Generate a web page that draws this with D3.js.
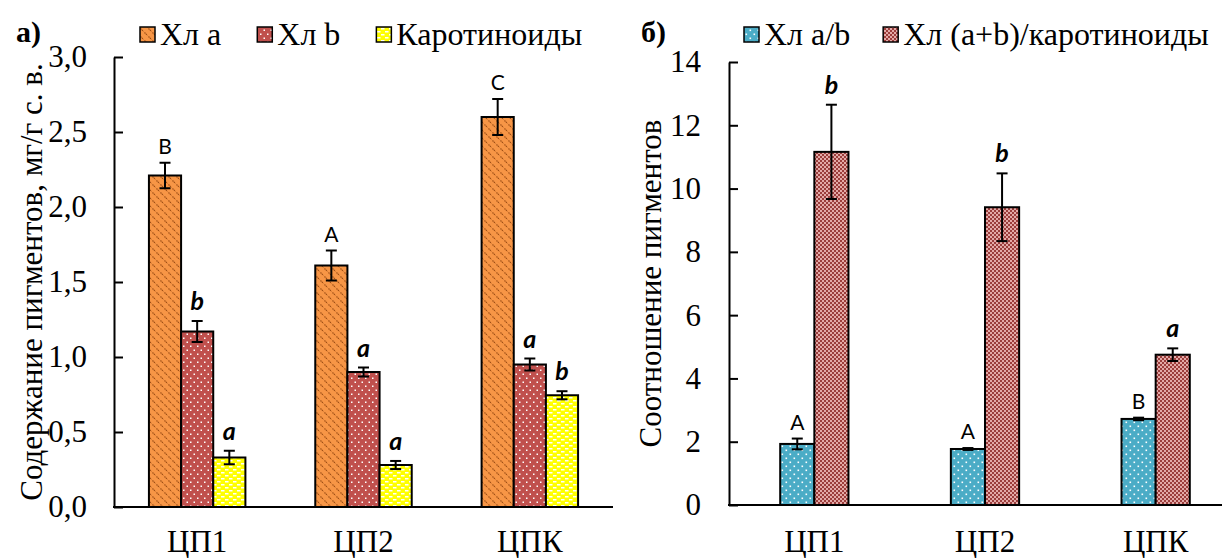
<!DOCTYPE html>
<html>
<head>
<meta charset="utf-8">
<script src="https://cdn.jsdelivr.net/npm/d3@7"></script>
<style>
  body { margin: 0; background: #fff; }
  svg { display: block; }
</style>
</head>
<body>
<script>
const categories = ["ЦП1", "ЦП2", "ЦПК"];

// panel а) — pigment content, mg/g dry weight
const chlA = [2.21, 1.61, 2.60];
const chlAErr = [0.085, 0.10, 0.12];
const chlB = [1.17, 0.90, 0.95];
const chlBErr = [0.07, 0.03, 0.04];
const carot = [0.33, 0.28, 0.745];
const carotErr = [0.045, 0.027, 0.027];
const chlALetters = ["B", "A", "C"];
const chlBLetters = ["b", "a", "a"];
const carotLetters = ["a", "a", "b"];
const ticksLeft = [0, 0.5, 1, 1.5, 2, 2.5, 3];

// panel б) — pigment ratios
const ratioAB = [1.93, 1.77, 2.72];
const ratioABErr = [0.17, 0.03, 0.04];
const ratioCar = [11.16, 9.41, 4.75];
const ratioCarErr = [1.49, 1.07, 0.2];
const ratioABLetters = ["A", "A", "B"];
const ratioCarLetters = ["b", "b", "a"];
const ticksRight = [0, 2, 4, 6, 8, 10, 12, 14];

const W = 1222, H = 558;
const serif = '"Liberation Serif", "Times New Roman", serif';
const sans = 'Lato, "Open Sans", "Liberation Sans", sans-serif';

const svg = d3.select("body").append("svg")
    .attr("width", W)
    .attr("height", H)
    .attr("viewBox", `0 0 ${W} ${H}`);

// fill patterns (Excel-like)
const defs = svg.append("defs");

const pOrange = defs.append("pattern").attr("id", "p-orange")
    .attr("patternUnits", "userSpaceOnUse").attr("width", 8).attr("height", 8);
pOrange.append("rect").attr("width", 8).attr("height", 8).attr("fill", "#F79646");
pOrange.append("path").attr("d", "M0.5,0.5L3.5,3.5M4.5,4.5L7.5,7.5")
    .attr("stroke", "#9A4B12").attr("stroke-width", 1.1).attr("stroke-dasharray", "1.4,0.6");

const pRed = defs.append("pattern").attr("id", "p-red")
    .attr("patternUnits", "userSpaceOnUse").attr("width", 7).attr("height", 8);
pRed.append("rect").attr("width", 7).attr("height", 8).attr("fill", "#C0504D");
pRed.append("rect").attr("x", 1).attr("y", 1.5).attr("width", 1.5).attr("height", 1.5).attr("fill", "#fff");
pRed.append("rect").attr("x", 4.5).attr("y", 5.5).attr("width", 1.5).attr("height", 1.5).attr("fill", "#fff");

const pYellow = defs.append("pattern").attr("id", "p-yellow")
    .attr("patternUnits", "userSpaceOnUse").attr("width", 8).attr("height", 6);
pYellow.append("rect").attr("width", 8).attr("height", 6).attr("fill", "#FFFF00");
pYellow.append("rect").attr("x", 1).attr("y", 1).attr("width", 3.5).attr("height", 1.5).attr("fill", "#fff");
pYellow.append("rect").attr("x", 5).attr("y", 4).attr("width", 3.5).attr("height", 1.5).attr("fill", "#fff");
pYellow.append("rect").attr("x", -3).attr("y", 4).attr("width", 3.5).attr("height", 1.5).attr("fill", "#fff");

const pBlue = defs.append("pattern").attr("id", "p-blue")
    .attr("patternUnits", "userSpaceOnUse").attr("width", 8).attr("height", 8);
pBlue.append("rect").attr("width", 8).attr("height", 8).attr("fill", "#4BACC6");
pBlue.append("rect").attr("x", 1.5).attr("y", 1.5).attr("width", 1.6).attr("height", 1.6).attr("fill", "#fff");
pBlue.append("rect").attr("x", 5.5).attr("y", 5.5).attr("width", 1.6).attr("height", 1.6).attr("fill", "#fff");

const pPink = defs.append("pattern").attr("id", "p-pink")
    .attr("patternUnits", "userSpaceOnUse").attr("width", 4).attr("height", 4);
pPink.append("rect").attr("width", 4).attr("height", 4).attr("fill", "#E3A9A7");
pPink.append("rect").attr("width", 2).attr("height", 2).attr("fill", "#9B3D3B");
pPink.append("rect").attr("x", 2).attr("y", 2).attr("width", 2).attr("height", 2).attr("fill", "#9B3D3B");

function panel(o) {
  const x0 = d3.scaleBand()
      .domain(categories)
      .range(o.xRange)
      .paddingInner(o.pad)
      .paddingOuter(o.pad / 2);
  const x1 = d3.scaleBand()
      .domain(o.series.map(s => s.name))
      .range([0, x0.bandwidth()]);
  const y = d3.scaleLinear().domain(o.yDomain).range(o.yRange);

  const g = svg.append("g");

  // bars
  o.series.forEach(s => {
    const sg = g.append("g");
    sg.selectAll("rect")
      .data(categories)
      .join("rect")
        .attr("x", (c) => x0(c) + x1(s.name))
        .attr("y", (c, i) => y(s.values[i]))
        .attr("width", x1.bandwidth())
        .attr("height", (c, i) => y(0) - y(s.values[i]))
        .attr("fill", `url(#${s.pattern})`)
        .attr("stroke", "#000")
        .attr("stroke-width", 2);

    // error bars
    const eb = sg.selectAll("g.err")
      .data(categories)
      .join("g")
        .attr("class", "err")
        .attr("transform", c => `translate(${x0(c) + x1(s.name) + x1.bandwidth() / 2},0)`)
        .attr("stroke", "#000")
        .attr("stroke-width", 2);
    eb.append("line")
        .attr("y1", (c, i) => y(s.values[i] - s.err[i]))
        .attr("y2", (c, i) => y(s.values[i] + s.err[i]));
    eb.append("line").attr("x1", -5.5).attr("x2", 5.5)
        .attr("y1", (c, i) => y(s.values[i] + s.err[i]))
        .attr("y2", (c, i) => y(s.values[i] + s.err[i]));
    eb.append("line").attr("x1", -5.5).attr("x2", 5.5)
        .attr("y1", (c, i) => y(s.values[i] - s.err[i]))
        .attr("y2", (c, i) => y(s.values[i] - s.err[i]));

    // significance letters
    sg.selectAll("text")
      .data(categories)
      .join("text")
        .attr("x", c => x0(c) + x1(s.name) + x1.bandwidth() / 2)
        .attr("y", (c, i) => y(s.values[i] + s.err[i]) - (s.upper ? 9 : 11))
        .attr("text-anchor", "middle")
        .style("font-family", sans)
        .style("font-size", (s.upper ? 21 : 25) + "px")
        .style("font-weight", s.upper ? 400 : 700)
        .style("font-style", s.upper ? "normal" : "italic")
        .text((c, i) => s.letters[i]);
  });

  // y axis, ticks pointing inward
  const ya = g.append("g")
      .attr("transform", `translate(${o.xRange[0]},0)`)
      .call(d3.axisLeft(y)
        .tickValues(o.ticks)
        .tickSize(-9)
        .tickSizeOuter(0)
        .tickPadding(o.tickPad)
        .tickFormat(o.fmt));
  ya.selectAll("path, line").attr("stroke", "#000").attr("stroke-width", 2);
  ya.selectAll("text")
      .style("font-family", serif)
      .style("font-size", "31px")
      .attr("fill", "#000");

  // x axis
  const xa = g.append("g")
      .attr("transform", `translate(0,${y(0)})`)
      .call(d3.axisBottom(x0).tickSize(0).tickSizeOuter(0).tickPadding(o.xPad));
  xa.select("path").attr("stroke", "#000").attr("stroke-width", 2)
      .attr("d", `M${o.xRange[0] - 1},0H${o.xRange[1]}`);
  xa.selectAll("text")
      .style("font-family", serif)
      .style("font-size", "31px")
      .attr("fill", "#000");

  // y title
  g.append("text")
      .attr("transform", `translate(${o.titleX},${(o.yRange[0] + o.yRange[1]) / 2}) rotate(-90)`)
      .attr("text-anchor", "middle")
      .attr("dy", "0.35em")
      .style("font-family", serif)
      .style("font-size", "31px")
      .text(o.title);

  // panel tag
  g.append("text")
      .attr("x", o.tagX).attr("y", 42)
      .style("font-family", serif)
      .style("font-size", "30px")
      .style("font-weight", 700)
      .text(o.tag);

  // legend
  let lx = o.legendX;
  o.series.forEach(s => {
    g.append("rect")
        .attr("x", lx).attr("y", 27)
        .attr("width", 15).attr("height", 15)
        .attr("fill", `url(#${s.pattern})`)
        .attr("stroke", "#000").attr("stroke-width", 1.5);
    const t = g.append("text")
        .attr("x", lx + 20).attr("y", 45)
        .style("font-family", serif)
        .style("font-size", "32px")
        .text(s.label);
    lx += 20 + t.node().getComputedTextLength() + o.legendGap;
  });
}

panel({
  xRange: [114, 613],
  pad: 0.42,
  yDomain: [0, 3],
  yRange: [507, 57],
  ticks: ticksLeft,
  fmt: d => d3.format(".1f")(d).replace(".", ","),
  tickPad: 27,
  xPad: 23,
  titleX: 31,
  title: "Содержание пигментов, мг/г с. в.",
  tag: "а)",
  tagX: 16,
  legendX: 140,
  legendGap: 36,
  series: [
    {name: "a", label: "Хл а", values: chlA, err: chlAErr, letters: chlALetters, pattern: "p-orange", upper: true},
    {name: "b", label: "Хл b", values: chlB, err: chlBErr, letters: chlBLetters, pattern: "p-red", upper: false},
    {name: "c", label: "Каротиноиды", values: carot, err: carotErr, letters: carotLetters, pattern: "p-yellow", upper: false}
  ]
});

panel({
  xRange: [729, 1241],
  pad: 0.6,
  yDomain: [0, 14],
  yRange: [505, 62],
  ticks: ticksRight,
  fmt: d3.format("d"),
  tickPad: 28,
  xPad: 25,
  titleX: 650,
  title: "Соотношение пигментов",
  tag: "б)",
  tagX: 641,
  legendX: 744,
  legendGap: 33,
  series: [
    {name: "ab", label: "Хл a/b", values: ratioAB, err: ratioABErr, letters: ratioABLetters, pattern: "p-blue", upper: true},
    {name: "car", label: "Хл (a+b)/каротиноиды", values: ratioCar, err: ratioCarErr, letters: ratioCarLetters, pattern: "p-pink", upper: false}
  ]
});
</script>
</body>
</html>
